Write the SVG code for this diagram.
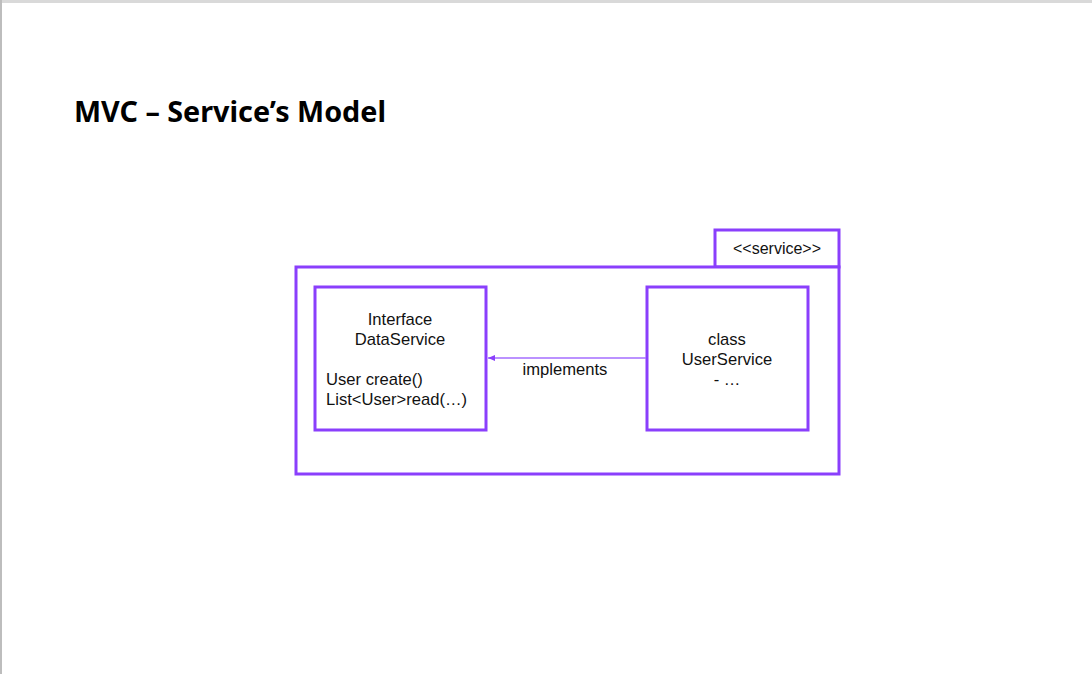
<svg xmlns="http://www.w3.org/2000/svg" width="1092" height="674" viewBox="0 0 1092 674">
<style>
.box{fill:#ffffff;stroke:#8a3ffc;stroke-width:3}
.t{font-family:"Liberation Sans",Arial,sans-serif;font-size:16.6px;fill:#111111}
.c{text-anchor:middle}
.title{font-family:"Noto Sans","Liberation Sans",sans-serif;font-weight:bold;font-size:29px;fill:#000000}
.conn{stroke:#a56eff;stroke-width:1.5;fill:none}
</style>
<defs>
<marker id="arr" markerWidth="8" markerHeight="8" refX="7" refY="4" orient="auto" markerUnits="userSpaceOnUse">
<path d="M0,1 L7,4 L0,7 Z" fill="#8a3ffc"/>
</marker>
</defs>
<rect x="0" y="0" width="1092" height="674" fill="#ffffff"/>
<rect x="0" y="0" width="1092" height="3" fill="#d9d9d9"/>
<rect x="0" y="0" width="2" height="674" fill="#bdbdbd"/>
<text class="title" x="74" y="122" textLength="312" lengthAdjust="spacingAndGlyphs">MVC – Service’s Model</text>
<g id="package">
<rect class="box" x="715" y="230" width="124" height="37"/>
<rect class="box" x="296" y="267" width="543" height="207"/>
<text class="t c" x="777" y="254" style="font-size:16px">&lt;&lt;service&gt;&gt;</text>
</g>
<g id="dataservice">
<rect class="box" x="315" y="287" width="171" height="143"/>
<text class="t c" x="400" y="325">Interface</text>
<text class="t c" x="400" y="345">DataService</text>
<text class="t" x="326" y="385">User create()</text>
<text class="t" x="326" y="405">List&lt;User&gt;read(…)</text>
</g>
<g id="userservice">
<rect class="box" x="647" y="287" width="161" height="143"/>
<text class="t c" x="727" y="345">class</text>
<text class="t c" x="727" y="365">UserService</text>
<text class="t c" x="727" y="385">- …</text>
</g>
<g id="connectors">
<line class="conn" x1="646" y1="358" x2="488" y2="358" marker-end="url(#arr)"/>
<text class="t c" x="565" y="375">implements</text>
</g>
</svg>
